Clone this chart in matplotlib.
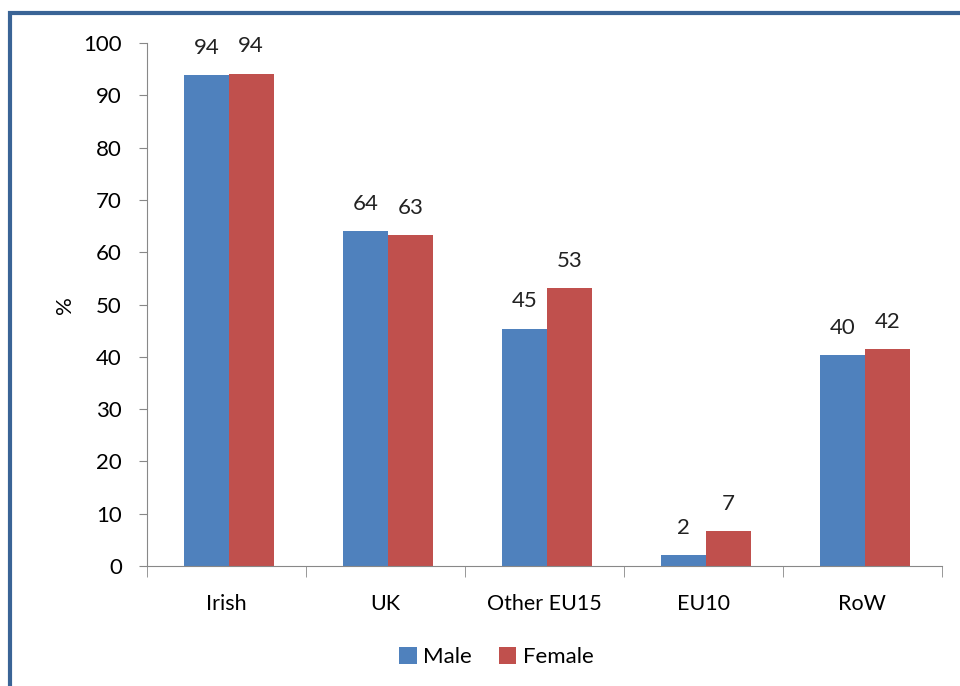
import matplotlib.pyplot as plt
import matplotlib.patches as patches
import numpy as np

categories = ["Irish", "UK", "Other EU15", "EU10", "RoW"]
male = [93.9, 64.1, 45.4, 2.1, 40.3]
female = [94.2, 63.3, 53.2, 6.7, 41.5]
yticks = [0, 10, 20, 30, 40, 50, 60, 70, 80, 90, 100]

plt.rcParams['font.family'] = ['Lato', 'DejaVu Sans']

fig = plt.figure(figsize=(9.6, 6.86), dpi=100)
ax = fig.add_axes([0.153, 0.175, 0.828, 0.762])

x = np.arange(len(categories))
w = 0.283
off = 0.015
b1 = ax.bar(x - w / 2 + off, male, w, color="#4F81BD", label="Male")
b2 = ax.bar(x + w / 2 + off, female, w, color="#C0504D", label="Female")

for bars, vals in ((b1, male), (b2, female)):
    for rect, v in zip(bars, vals):
        ax.text(rect.get_x() + rect.get_width() / 2, v + 3.3, f"{v:.0f}",
                ha="center", va="bottom", fontsize=16, color="#222222")

ax.set_xlim(-0.5, len(categories) - 0.5)
ax.set_ylim(0, 100)
ax.set_yticks(yticks)
ax.set_xticks(x)
ax.set_xticklabels(categories)
ax.set_xticks(np.arange(len(categories) + 1) - 0.5, minor=True)
ax.tick_params(axis="x", which="major", length=0, pad=20, labelsize=15.5)
ax.tick_params(axis="x", which="minor", length=8, color="#888888", direction="out")
ax.tick_params(axis="y", length=6, color="#888888", labelsize=16, pad=12)
ax.set_ylabel("%", fontsize=16, labelpad=6)

for s in ("top", "right"):
    ax.spines[s].set_visible(False)
for s in ("left", "bottom"):
    ax.spines[s].set_color("#888888")

fig.legend(handles=[b1, b2], loc="center", bbox_to_anchor=(0.517, 0.042), ncol=2,
           frameon=False, fontsize=16, handlelength=0.8, handleheight=0.8,
           handletextpad=0.3, columnspacing=1.2)

border = patches.Rectangle((10 / 960, -0.1), 1.2, 1.1 - 13 / 686, transform=fig.transFigure,
                           fill=False, edgecolor="#3A6496", linewidth=3)
fig.patches.append(border)

fig.savefig("out.png", dpi=100)
